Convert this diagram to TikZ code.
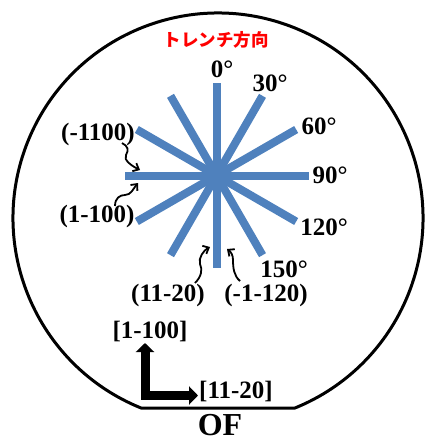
\documentclass[tikz,border=0pt]{standalone}
\usepackage{fontspec}
\setmainfont{Liberation Serif}
\newfontfamily\cjk{Noto Sans CJK JP}
\usetikzlibrary{arrows.meta}
\definecolor{rayblue}{RGB}{79,129,189}
\tikzset{
  ray/.style={draw=rayblue, line width=8pt},
  lbl/.style={font=\bfseries\fontsize{25}{27}\selectfont, inner sep=0pt},
  squig/.style={draw=black, line width=1.8pt, -{Straight Barb[length=5pt,width=9pt]}},
  bigarrow/.style={draw=black, line width=9pt, line join=miter, {Triangle[length=9pt,width=18pt]}-{Triangle[length=9pt,width=18pt]}}
}
\begin{document}
\begin{tikzpicture}[x=1pt,y=-1pt]
\useasboundingbox (0,0) rectangle (425,441);
% wafer outline with orientation flat
\draw[line width=3pt, line join=round] (218,218) ++(112.04:205) arc[start angle=112.04, end angle=427.96, radius=205] -- cycle;
% title
\node[text=red, font=\cjk\bfseries\fontsize{17.5}{19}\selectfont, inner sep=0pt] (title) at (216,40) {トレンチ方向};
% rays
\coordinate (c) at (216.5,175.5);
\foreach \a in {0,30,60,90,120,150}{
  \draw[ray] ([shift={(\a-90:92)}]c) -- ([shift={(\a+90:92)}]c);
}
% angle labels
\node[lbl] (l0) at (222,69) {0°};
\node[lbl] (l30) at (270,83) {30°};
\node[lbl] (l60) at (319,126) {60°};
\node[lbl] (l90) at (330,175) {90°};
\node[lbl] (l120) at (324,227) {120°};
\node[lbl] (l150) at (284,269) {150°};
% plane labels
\node[lbl] (pa) at (98,134) {(-1100)};
\node[lbl] (pb) at (97,216) {(1-100)};
\node[lbl] (pc) at (168,295) {(11-20)};
\node[lbl] (pd) at (266,295) {(-1-120)};
% squiggly pointers
\coordinate (sa0) at (122,143);
\coordinate (sa1) at (140,170);
\draw[squig] (sa0) .. controls (128,146) and (129,150) .. (126,155) .. controls (123,160) and (132,166) .. (sa1);
\coordinate (sb0) at (115,206);
\coordinate (sb1) at (138,183);
\draw[squig] (sb0) .. controls (115,198) and (120,195) .. (125,195) .. controls (131,195) and (133,189) .. (sb1);
\coordinate (sc0) at (195,283);
\coordinate (sc1) at (210,247);
\draw[squig] (sc0) .. controls (201,277) and (203,270) .. (200,264) .. controls (198,258) and (204,250) .. (sc1);
\coordinate (sd0) at (240,281);
\coordinate (sd1) at (227,249);
\draw[squig] (sd0) .. controls (234,276) and (233,268) .. (233,260) .. controls (233,255) and (231,252) .. (sd1);
% crystal direction arrows
\coordinate (up) at (145,343);
\coordinate (corner) at (145,395.5);
\coordinate (right) at (198,395.5);
\draw[bigarrow] (up) -- (corner) -- (right);
\node[lbl] (d1) at (150,331) {[1-100]};
\node[lbl] (d2) at (236,391) {[11-20]};
\node[font=\bfseries\fontsize{32}{34}\selectfont, inner sep=0pt, anchor=base] (of) at (220,435) {OF};
\end{tikzpicture}
\end{document}
